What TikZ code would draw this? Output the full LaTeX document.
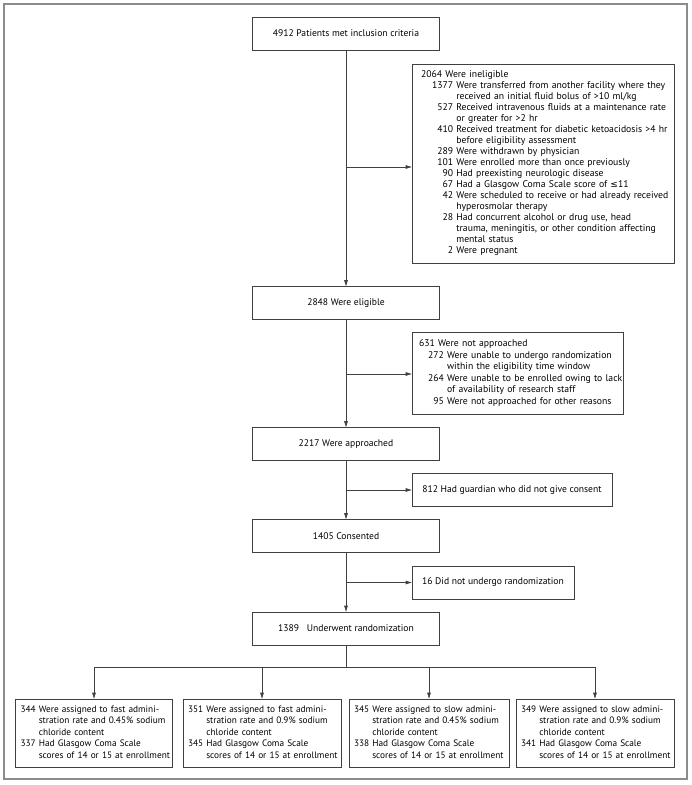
\documentclass[tikz,border=0pt]{standalone}
\usepackage{fontspec}
\setmainfont{PT Sans}
\newfontfamily\symfont{DejaVu Sans}
\usetikzlibrary{arrows.meta}

\begin{document}
\begin{tikzpicture}[x=1pt,y=-1pt,
    box/.style={draw=black!75,line width=0.7pt,minimum height=33,inner sep=0pt,
      font=\fontsize{9.6}{11.5}\selectfont},
    mainbox/.style={box,minimum width=187},
    sidebox/.style={box,align=left},
    link/.style={black!75,line width=0.7pt,-{Triangle[length=6pt,width=3.6pt]}}]
\useasboundingbox (0,0) rectangle (692,785);
\draw[black!45,line width=1.3pt] (4,4) rectangle (687,779);

%NODE
\node[mainbox] (A) at (346,33.5) {4912 Patients met inclusion criteria};
\node[sidebox,text width=244,inner xsep=9,minimum height=199,
  font=\fontsize{9.7}{11}\selectfont] (B) at (543,163.5) {%
  \begin{tabular}{@{}p{11pt}@{}r@{\ }l@{}}
  \multicolumn{3}{@{}l@{}}{2064 Were ineligible}\\
  & 1377 & Were transferred from another facility where they\\
  & & received an initial fluid bolus of >10 ml/kg\\
  & 527 & Received intravenous fluids at a maintenance rate\\
  & & or greater for >2 hr\\
  & 410 & Received treatment for diabetic ketoacidosis >4 hr\\
  & & before eligibility assessment\\
  & 289 & Were withdrawn by physician\\
  & 101 & Were enrolled more than once previously\\
  & 90 & Had preexisting neurologic disease\\
  & 67 & Had a Glasgow Coma Scale score of {\symfont\small ≤}11\\
  & 42 & Were scheduled to receive or had already received\\
  & & hyperosmolar therapy\\
  & 28 & Had concurrent alcohol or drug use, head\\
  & & trauma, meningitis, or other condition affecting\\
  & & mental status\\
  & 2 & Were pregnant
  \end{tabular}};
\node[mainbox] (C) at (346,303) {2848 Were eligible};
\node[sidebox,text width=197,inner xsep=7,minimum height=82,
  font=\fontsize{9.7}{11.5}\selectfont] (D) at (517.5,373) {%
  \begin{tabular}{@{}p{9pt}@{}r@{\ }l@{}}
  \multicolumn{3}{@{}l@{}}{631 Were not approached}\\
  & 272 & Were unable to undergo randomization\\
  & & within the eligibility time window\\
  & 264 & Were unable to be enrolled owing to lack\\
  & & of availability of research staff\\
  & 95 & Were not approached for other reasons
  \end{tabular}};
\node[mainbox] (E) at (346,444) {2217 Were approached};
\node[box,minimum width=200] (F) at (512,490) {812 Had guardian who did not give consent};
\node[mainbox] (G) at (346,536) {1405 Consented};
\node[box,minimum width=162] (H) at (493,582.5) {16 Did not undergo randomization};
\node[mainbox] (I) at (346,628.5) {1389\ \ \ Underwent randomization};
\tikzset{armbox/.style={sidebox,inner xsep=5,minimum height=68,
  font=\fontsize{9.3}{11.5}\selectfont}}
\node[armbox,text width=147] (J1) at (94,733) {%
  \begin{tabular}{@{}r@{\ }l@{}}
  344 & Were assigned to fast admini-\\
  & stration rate and 0.45\% sodium\\
  & chloride content\\
  337 & Had Glasgow Coma Scale\\
  & scores of 14 or 15 at enrollment
  \end{tabular}};
\node[armbox,text width=148] (J2) at (262,733) {%
  \begin{tabular}{@{}r@{\ }l@{}}
  351 & Were assigned to fast admini-\\
  & stration rate and 0.9\% sodium\\
  & chloride content\\
  345 & Had Glasgow Coma Scale\\
  & scores of 14 or 15 at enrollment
  \end{tabular}};
\node[armbox,text width=150] (J3) at (429,733) {%
  \begin{tabular}{@{}r@{\ }l@{}}
  345 & Were assigned to slow admini-\\
  & stration rate and 0.45\% sodium\\
  & chloride content\\
  338 & Had Glasgow Coma Scale\\
  & scores of 14 or 15 at enrollment
  \end{tabular}};
\node[armbox,text width=148] (J4) at (595,733) {%
  \begin{tabular}{@{}r@{\ }l@{}}
  349 & Were assigned to slow admini-\\
  & stration rate and 0.9\% sodium\\
  & chloride content\\
  341 & Had Glasgow Coma Scale\\
  & scores of 14 or 15 at enrollment
  \end{tabular}};

%EDGE
\coordinate (b1) at (346,167);
\coordinate (b2) at (346,374);
\coordinate (b3) at (346,490);
\coordinate (b4) at (346,582.5);
\coordinate (s) at (346,667);
\draw[link] (A) -- (C);
\draw[link] (C) -- (E);
\draw[link] (E) -- (G);
\draw[link] (G) -- (I);
\draw[link] (b1) -- (b1 -| B.west);
\draw[link] (b2) -- (b2 -| D.west);
\draw[link] (b3) -- (F);
\draw[link] (b4) -- (H);
\draw[black!75,line width=0.7pt] (I) -- (s);
\draw[black!75,line width=0.7pt] (J1 |- s) -- (J4 |- s);
\draw[link] (J1 |- s) -- (J1);
\draw[link] (J2 |- s) -- (J2);
\draw[link] (J3 |- s) -- (J3);
\draw[link] (J4 |- s) -- (J4);
\end{tikzpicture}
\end{document}
